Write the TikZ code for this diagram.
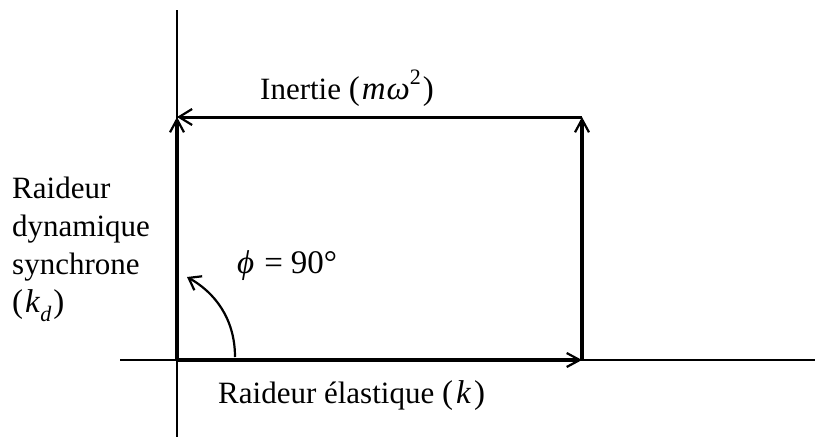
\documentclass[tikz,border=0pt]{standalone}
\usepackage{fontspec}
\setmainfont{Liberation Serif}
\usetikzlibrary{arrows.meta}
\newcommand{\supr}[1]{\raisebox{0.45em}{\fontsize{22}{22}\selectfont #1}}
\newcommand{\subr}[1]{\raisebox{-0.28em}{\fontsize{22}{22}\selectfont\itshape #1}}
\newcommand{\mth}[1]{{\fontsize{33}{38}\selectfont #1}}
\begin{document}
\begin{tikzpicture}[x=1pt,y=-1pt,
  axis/.style={line width=1.4pt},
  heavy/.style={line width=4.6pt,-{Straight Barb[length=13pt,width=14pt,line width=2.2pt]}},
  light/.style={line width=3pt,-{Straight Barb[length=13pt,width=16pt,line width=2.2pt]}},
  lbl/.style={font=\fontsize{31}{38}\selectfont, inner sep=0pt, anchor=base west}]
\useasboundingbox (0,0) rectangle (821,439);
\coordinate (ytop) at (177,10);
\coordinate (ybot) at (177,437);
\coordinate (xl) at (120,360);
\coordinate (xr) at (815,360);
\coordinate (O) at (177,360);
\coordinate (R) at (582,360);
\coordinate (RT) at (582,117);
\coordinate (LT) at (177,117);
\coordinate (a0) at (235,357);
\coordinate (a1) at (187,277);
\draw[axis] (ytop) -- (ybot);
\draw[axis] (xl) -- (xr);
\draw[heavy] (O) -- (R);
\draw[heavy] (R) -- (RT);
\draw[heavy] (O) -- (LT);
\draw[light] (RT) -- (LT);
\draw[line width=2.2pt,-{Straight Barb[length=11pt,width=16pt,line width=2.2pt]}] (a0) .. controls (235,318) and (214,292) .. (a1);
\node[lbl] (inert) at (260,99) {Inertie \mth{(\hspace{2pt}\textit{m\hspace{1pt}ω}\supr{2}\hspace{2pt})}};
\node[lbl] (elast) at (218,403) {Raideur élastique \mth{(\hspace{3pt}\textit{k}\hspace{3pt})}};
\node[lbl] (phi) at (237,273) {\mth{\textit{ϕ}\hspace{10pt}=\hspace{8pt}90°}};
\node[lbl,align=left] (dyn) at (12,312) {Raideur\\dynamique\\synchrone\\\mth{(\hspace{2pt}\textit{k}\subr{d}\hspace{2pt})}};
\end{tikzpicture}
\end{document}
